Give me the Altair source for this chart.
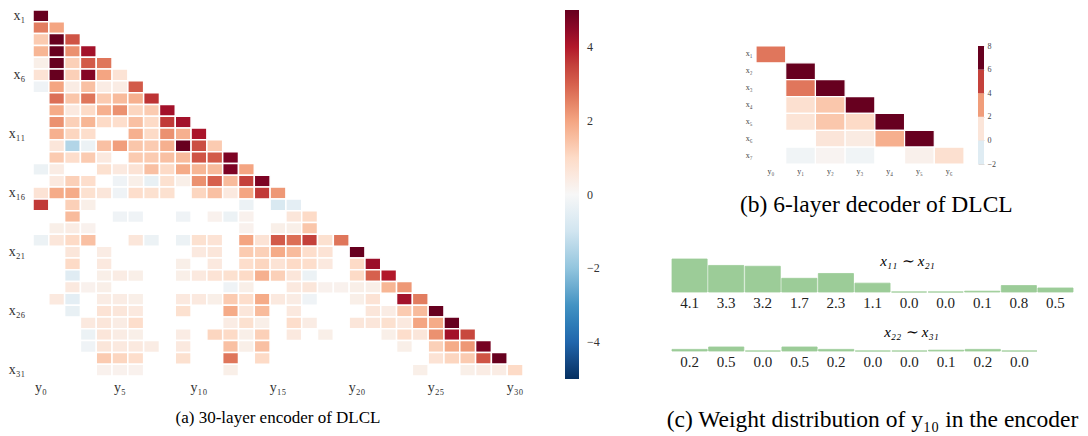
import altair as alt
import pandas as pd

SERIF = "Liberation Serif"
SUB = str.maketrans("0123456789", "₀₁₂₃₄₅₆₇₈₉")
N = None
GREEN = "#9ccc98"
RDBU_R = ["#053061", "#2166ac", "#4393c3", "#92c5de", "#d1e5f0", "#f7f7f7",
          "#fddbc7", "#f4a582", "#d6604d", "#b2182b", "#67001f"]

# ---------------- (a) 30-layer encoder: rows x1..x31, cols y0..y(r-1) ----------------
enc_rows = [
    [6],
    [2.6, 2.0],
    [1.3, 6, 3.2],
    [1.7, 6, 2.3, 4.2],
    [0.3, 6, 1.2, 3.1, 2.7],
    [0.7, 6, 1.2, 4.6, 2.0, 0.7],
    [-0.2, 2.0, 0.4, 1.5, 0.4, 0.4, 3.1],
    [N, 2.8, 1.4, 2.7, 1.3, 1.6, 1.8, 3.7],
    [N, 1.9, 0.5, 1.0, 1.8, 2.3, 1.1, 1.3, 4.2],
    [N, 2.3, 1.2, 1.7, 1.0, 0.9, 1.5, 1.0, 3.6, 4.2],
    [N, 1.8, 1.1, 0.9, N, N, 1.8, 1.0, 2.3, 1.8, 4.1],
    [N, 0.6, -1.5, -0.3, 1.5, 2.1, 1.4, 1.3, 1.8, 5.5, 3.3, 1.3],
    [N, 1.3, 0.9, 1.3, 0.5, N, 1.3, 1.3, 1.5, 1.6, 3.2, 3.1, 4.7],
    [-0.3, 0.4, N, N, 0.8, 0.5, 0.7, 1.5, 1.0, 1.9, 1.7, 1.6, 4.7, 2.0],
    [N, 0.5, 1.2, 0.9, N, -0.2, 0.3, -0.4, 0.8, 0.3, 2.3, 3.0, 1.6, 3.5, 4.7],
    [0.7, 1.9, 1.9, 0.8, 0.6, -0.2, 0.9, 0.8, 0.8, N, 1.1, 1.5, 0.5, 2.0, 3.6, 2.2],
    [3.6, N, 1.2, 0.3, N, N, N, N, N, N, N, N, N, -0.3, N, -0.8, -0.5],
    [N, N, 1.6, N, N, -0.2, -0.2, N, N, -0.2, N, 0.2, -0.3, 0.2, N, N, 0.6, 1.0],
    [N, 0.3, 0.4, 0.2, N, N, N, N, N, N, N, N, N, 0.2, N, 0.3, 0.3, 1.4, N],
    [-0.3, 0.6, 1.0, 1.5, N, N, 0.6, -0.3, N, -0.3, 0.8, 0.7, N, 2.0, 0.7, 3.1, 2.8, 3.5, 0.8, 2.7],
    [N, N, 0.6, N, 0.4, N, N, N, N, N, 0.5, 0.6, N, 1.3, 1.2, 1.9, 1.6, 0.9, 0.7, N, 5.5],
    [N, N, 1.0, N, 0.5, N, N, N, N, 0.3, N, 0.5, N, 0.9, 1.1, 0.7, 1.0, 0.9, 0.5, N, 1.0, 4.3],
    [N, N, -0.6, N, 0.3, 0.4, 0.3, N, N, 0.3, 0.5, 0.7, 0.8, 1.0, 1.8, 1.2, 0.6, -0.3, N, N, 1.0, 3.0, 4.0],
    [N, N, 0.5, 0.2, 0.3, N, N, N, N, N, N, N, -0.2, 0.3, N, N, 0.5, 0.6, 0.2, 0.2, 0.3, 0.3, 1.7, 2.2],
    [N, 0.5, -0.5, N, 0.4, 0.4, 0.3, N, N, 0.5, 0.5, 0.3, 1.3, 0.9, 1.9, 0.5, 0.4, -0.2, N, N, 0.3, 0.7, N, 4.2, 2.6],
    [N, N, -0.4, N, 0.7, 0.6, 0.5, N, N, 0.8, N, N, 1.9, 0.6, 1.6, N, 0.5, N, N, N, N, 0.6, 0.4, 1.3, 1.6, 5.5],
    [N, N, N, 0.5, 0.6, 0.4, 0.9, N, N, N, N, N, 0.4, 0.8, 0.3, N, 0.9, 0.4, N, N, 0.6, 0.6, 0.8, 0.5, 2.0, 1.9, 5.5],
    [N, N, N, -0.3, 0.6, 0.4, 0.3, N, N, 0.4, N, 1.1, 1.0, 0.3, 1.2, N, 0.5, N, 0.3, N, N, N, 0.3, 0.9, 0.6, 2.3, 4.2, 3.4],
    [N, N, N, -0.2, 0.6, 0.5, 0.5, 0.4, N, 0.5, N, N, 1.5, 0.3, 1.5, N, N, N, N, N, N, N, N, 0.3, N, 1.2, 1.9, 2.2, 4.8],
    [N, N, N, N, 1.3, 1.1, 0.9, N, N, 0.8, N, N, 2.7, N, 1.0, N, N, N, N, N, N, N, N, N, N, 0.7, 1.1, 1.3, 3.2, 5.5],
    [N, N, N, N, 0.2, 0.2, 0.2, N, N, N, N, N, 0.3, N, N, N, N, N, N, N, N, N, N, N, 0.3, N, N, 0.3, 0.4, 0.4, 1.0],
]
for k, r in enumerate(enc_rows):
    assert len(r) == k + 1, (k + 1, len(r))

rows_a = [("x" + str(i)).translate(SUB) for i in range(1, 32)]
cols_a = [("y" + str(j)).translate(SUB) for j in range(31)]
ticks_a_rows = rows_a[::5]
ticks_a_cols = cols_a[::5]
legend_a_values = [-4, -2, 0, 2, 4]

# ---------------- (b) 6-layer decoder: rows x1..x7, cols y0..y6 ----------------
dec_rows = [
    [4.3],
    [N, 8],
    [N, 4.3, 8],
    [N, 1.3, 2.2, 8],
    [N, 1.1, 2.2, 1.6, 8],
    [N, N, 1.0, 0.7, 2.9, 8],
    [N, -0.3, 0.2, -0.3, N, 0.4, 1.3],
]
rows_b = [("x" + str(i)).translate(SUB) for i in range(1, 8)]
cols_b = [("y" + str(j)).translate(SUB) for j in range(7)]
band_lo = [-2, 0, 2, 4, 6]
band_hi = [0, 2, 4, 6, 8]
band_value = [-1, 1, 3.4, 5.6, 8]
cbar_b_ticks = [-2, 0, 2, 4, 6, 8]

# ---------------- (c) weights of y10 ----------------
c_top = [4.1, 3.3, 3.2, 1.7, 2.3, 1.1, 0.0, 0.0, 0.1, 0.8, 0.5]
c_bot = [0.2, 0.5, 0.0, 0.5, 0.2, 0.0, 0.0, 0.1, 0.2, 0.0]
c_top_label = "x₁₁ ∼ x₂₁"
c_bot_label = "x₂₂ ∼ x₃₁"

captions = [
    "(a) 30-layer encoder of DLCL",
    "(b) 6-layer decoder of DLCL",
    "(c) Weight distribution of y₁₀ in the encoder",
]

MINUS = "replace(datum.label, '-', '\u2212')"


def stops(lo, hi):
    return [lo + (hi - lo) * k / 10 for k in range(11)]


# ---------- panel (a) ----------
rec_a = []
for r, vals in enumerate(enc_rows):
    for c, v in enumerate(vals):
        if v is not None:
            rec_a.append({"row": rows_a[r], "col": cols_a[c], "w": v})
df_a = pd.DataFrame(rec_a)

panel_a = alt.Chart(df_a).mark_rect(stroke="white", strokeWidth=1.5).encode(
    x=alt.X("col:N", scale=alt.Scale(domain=cols_a, paddingInner=0, paddingOuter=0),
            axis=alt.Axis(values=ticks_a_cols, title=None, labelAngle=0, ticks=False, domain=False,
                          labelFont=SERIF, labelFontSize=14, labelColor="#333", labelPadding=4)),
    y=alt.Y("row:N", scale=alt.Scale(domain=rows_a, paddingInner=0, paddingOuter=0),
            axis=alt.Axis(values=ticks_a_rows, title=None, ticks=False, domain=False,
                          labelFont=SERIF, labelFontSize=14, labelColor="#333", labelPadding=8)),
    color=alt.Color("w:Q", scale=alt.Scale(domain=stops(-5, 5), range=RDBU_R, clamp=True),
                    legend=alt.Legend(title=None, orient="right", direction="vertical",
                                      gradientLength=369, gradientThickness=14, offset=42, padding=0,
                                      values=legend_a_values, labelFont=SERIF, labelFontSize=12,
                                      labelColor="#333", labelOffset=8, gradientStrokeWidth=0,
                                      labelExpr=MINUS)),
).properties(
    width=490, height=366,
    title=alt.TitleParams(captions[0], orient="bottom", anchor="middle", frame="group", offset=16,
                          font=SERIF, fontSize=17, fontWeight="normal", color="black"),
)

# ---------- panel (b) ----------
rec_b = []
for r, vals in enumerate(dec_rows):
    for c, v in enumerate(vals):
        if v is not None:
            rec_b.append({"row": rows_b[r], "col": cols_b[c], "w": v})
df_b = pd.DataFrame(rec_b)
scale_b = alt.Scale(domain=stops(-8, 8), range=RDBU_R, clamp=True)

heat_b = alt.Chart(df_b).mark_rect(stroke="white", strokeWidth=1.2).encode(
    x=alt.X("col:N", scale=alt.Scale(domain=cols_b, paddingInner=0, paddingOuter=0),
            axis=alt.Axis(title=None, labelAngle=0, ticks=False, domain=False, labelFont=SERIF,
                          labelFontSize=8, labelColor="#444", labelPadding=3)),
    y=alt.Y("row:N", scale=alt.Scale(domain=rows_b, paddingInner=0, paddingOuter=0),
            axis=alt.Axis(title=None, ticks=False, domain=False, labelFont=SERIF,
                          labelFontSize=8, labelColor="#444", labelPadding=4)),
    color=alt.Color("w:Q", scale=scale_b, legend=None),
).properties(width=208, height=118)

df_band = pd.DataFrame({"lo": band_lo, "hi": band_hi, "w": band_value})
cbar_b = alt.Chart(df_band).mark_rect().encode(
    x=alt.value(0), x2=alt.value("width"),
    y=alt.Y("lo:Q", scale=alt.Scale(domain=[-2, 8], nice=False, zero=False),
            axis=alt.Axis(orient="right", values=cbar_b_ticks, title=None, ticks=False, domain=False,
                          labelFont=SERIF, labelFontSize=8, labelColor="#444", labelPadding=3,
                          labelExpr=MINUS)),
    y2="hi:Q",
    color=alt.Color("w:Q", scale=scale_b, legend=None),
).properties(width=6, height=118)

panel_b = alt.hconcat(heat_b, cbar_b, spacing=14, bounds="flush").properties(
    title=alt.TitleParams(captions[1], orient="bottom", anchor="middle", offset=18, dx=6,
                          font=SERIF, fontSize=23.5, fontWeight="normal", color="black"))

# ---------- panel (c) ----------
def bar_panel(vals, label, width, dx, offset):
    df = pd.DataFrame({"i": list(range(len(vals))), "v": vals})
    base = alt.Chart(df).encode(
        x=alt.X("i:O", axis=None, scale=alt.Scale(paddingInner=0.04, paddingOuter=0)))
    bars = base.mark_bar(color=GREEN, stroke=GREEN, strokeWidth=0.8).encode(
        y=alt.Y("v:Q", axis=None, scale=alt.Scale(domain=[0, 4.1], nice=False)))
    txt = base.mark_text(font=SERIF, fontSize=15, baseline="middle", dy=11, color="#222").encode(
        y=alt.YDatum(0), text=alt.Text("v:Q", format=".1f"))
    return alt.layer(bars, txt).properties(
        width=width, height=33,
        title=alt.TitleParams(label, orient="top", anchor="middle", frame="group", offset=offset,
                              dx=dx, font=SERIF, fontStyle="italic", fontSize=15,
                              fontWeight="normal", color="black"))

c1 = bar_panel(c_top, c_top_label, 401, 35, -10)
c2 = bar_panel(c_bot, c_bot_label, 365, 57, -22)
panel_c = alt.vconcat(c1, c2, spacing=7).properties(
    title=alt.TitleParams(captions[2], orient="bottom", anchor="middle", offset=38,
                          font=SERIF, fontSize=23.5, fontWeight="normal", color="black"))


def spacer(w, h):
    return alt.Chart(pd.DataFrame({"s": [0]})).mark_point(
        opacity=0, size=0, strokeWidth=0, filled=True
    ).encode(x=alt.value(0), y=alt.value(0)).properties(width=w, height=h)


right = alt.vconcat(
    alt.vconcat(spacer(1, 1), alt.hconcat(spacer(67, 1), panel_b, spacing=0), spacing=31),
    panel_c, spacing=36)

chart = alt.hconcat(panel_a, right, spacing=66).resolve_scale(color="independent").properties(
    padding=0
).configure_view(stroke=None)

chart.save("out.html", embed_options={"renderer": "svg", "actions": False})
